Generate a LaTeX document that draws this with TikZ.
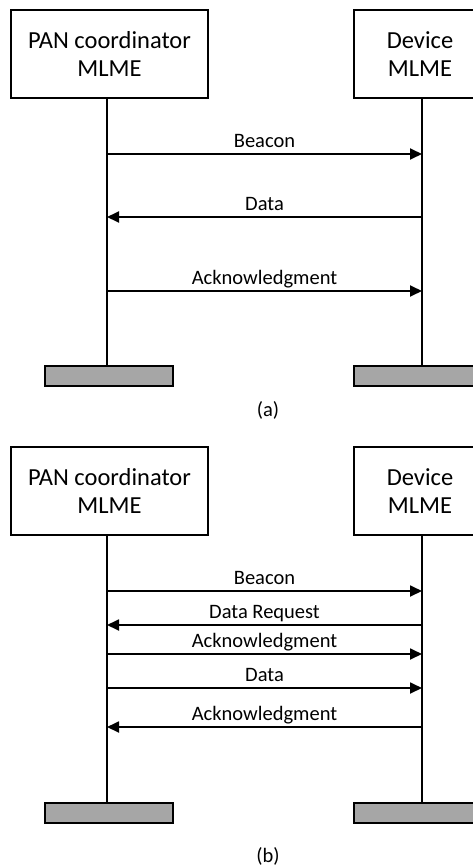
\documentclass[tikz,border=0pt]{standalone}
\usepackage{fontspec}
\setmainfont{Carlito}
\usetikzlibrary{arrows.meta,quotes,positioning}

\tikzset{
  entity/.style={draw, line width=1.8pt, fill=white, align=center, font=\fontsize{24.5}{28.5}\selectfont, minimum height=88pt},
  endbar/.style={draw, line width=1.8pt, fill=black!35, minimum height=20pt, inner sep=0pt},
  life/.style={line width=1.8pt},
  msg/.style={line width=1.8pt, -{Triangle[length=12pt, width=11pt]}},
  every edge quotes/.style={anchor=base, yshift=7pt, inner sep=0pt, font=\fontsize{20.5}{24}\selectfont},
  caption/.style={font=\fontsize{20.5}{24}\selectfont}
}

\begin{document}
\begin{tikzpicture}[x=1pt, y=-1pt]
\clip (0,0) rectangle (473,867);
% (a)
\node[entity, minimum width=197pt] (panA) at (109.5,54) {PAN coordinator\\MLME};
\node[entity, minimum width=132pt] (devA) at (420,54) {Device\\MLME};
\node[endbar, minimum width=128pt] (panAend) at (109,376) {};
\node[endbar, minimum width=136pt] (devAend) at (422,376) {};
\coordinate (pa1) at (107,154); \coordinate (da1) at (422,154);
\coordinate (pa2) at (107,217); \coordinate (da2) at (422,217);
\coordinate (pa3) at (107,291); \coordinate (da3) at (422,291);
\draw[life] (panA.south -| pa1) -- (panAend.north -| pa1);
\draw[life] (devA.south -| da1) -- (devAend.north -| da1);
\draw[msg] (pa1) to ["Beacon"] (da1);
\draw[msg] (da2) to ["Data"] (pa2);
\draw[msg] (pa3) to ["Acknowledgment"] (da3);
\node[caption] (capA) at (268,410) {(a)};
% (b)
\node[entity, minimum width=197pt] (panB) at (109.5,491) {PAN coordinator\\MLME};
\node[entity, minimum width=132pt] (devB) at (420,491) {Device\\MLME};
\node[endbar, minimum width=128pt] (panBend) at (109,813) {};
\node[endbar, minimum width=136pt] (devBend) at (422,813) {};
\coordinate (pb1) at (107,591); \coordinate (db1) at (422,591);
\coordinate (pb2) at (107,625); \coordinate (db2) at (422,625);
\coordinate (pb3) at (107,654); \coordinate (db3) at (422,654);
\coordinate (pb4) at (107,688); \coordinate (db4) at (422,688);
\coordinate (pb5) at (107,727); \coordinate (db5) at (422,727);
\draw[life] (panB.south -| pb1) -- (panBend.north -| pb1);
\draw[life] (devB.south -| db1) -- (devBend.north -| db1);
\draw[msg] (pb1) to ["Beacon"] (db1);
\draw[msg] (db2) to ["Data Request"] (pb2);
\draw[msg] (pb3) to ["Acknowledgment"] (db3);
\draw[msg] (pb4) to ["Data"] (db4);
\draw[msg] (db5) to ["Acknowledgment"] (pb5);
\node[caption] (capB) at (268,856) {(b)};
\end{tikzpicture}
\end{document}
